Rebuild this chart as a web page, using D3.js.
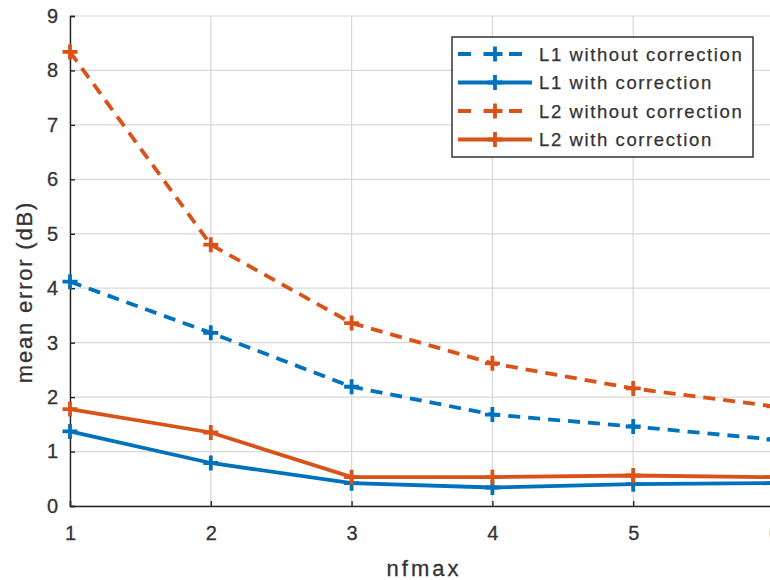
<!DOCTYPE html>
<html>
<head>
<meta charset="utf-8">
<script src="https://cdn.jsdelivr.net/npm/d3@7"></script>
<style>
  html, body { margin: 0; padding: 0; background: #fff; overflow: hidden; }
  svg { display: block; font-family: "Liberation Sans", Arial, Helvetica, sans-serif; }
</style>
</head>
<body>
<svg id="chart" width="770" height="580"></svg>
<script>
const nfmax = [1, 2, 3, 4, 5, 6];
const xTicks = [1, 2, 3, 4, 5, 6];
const yTicks = [0, 1, 2, 3, 4, 5, 6, 7, 8, 9];
const L1_without = [4.12, 3.18, 2.19, 1.68, 1.46, 1.22];
const L1_with    = [1.37, 0.79, 0.42, 0.34, 0.40, 0.42];
const L2_without = [8.34, 4.80, 3.36, 2.62, 2.16, 1.83];
const L2_with    = [1.78, 1.35, 0.53, 0.53, 0.56, 0.53];
const seriesNames = ["L1 without correction", "L1 with correction", "L2 without correction", "L2 with correction"];
const xLabel = "nfmax";
const yLabel = "mean error (dB)";

const blue = "#0072BD", orange = "#D95319", axisCol = "#262626", textCol = "#333", gridCol = "#d8d8d8";
const series = [
  { name: seriesNames[0], values: L1_without, color: blue, dash: "12,8" },
  { name: seriesNames[1], values: L1_with, color: blue, dash: null },
  { name: seriesNames[2], values: L2_without, color: orange, dash: "12,8" },
  { name: seriesNames[3], values: L2_with, color: orange, dash: null }
];
const LW = 3.8;

const svg = d3.select("#chart");
const x = d3.scaleLinear().domain([1, 6]).range([70, 774]);
const y = d3.scaleLinear().domain([0, 9]).range([506, 16]);

// grid
const grid = svg.append("g");
grid.selectAll("line.gx").data(xTicks).join("line")
  .attr("x1", d => x(d)).attr("x2", d => x(d)).attr("y1", y(0)).attr("y2", y(9))
  .attr("stroke", gridCol).attr("stroke-width", 1.2);
grid.selectAll("line.gy").data(yTicks).join("line")
  .attr("x1", x(1)).attr("x2", x(6)).attr("y1", d => y(d)).attr("y2", d => y(d))
  .attr("stroke", gridCol).attr("stroke-width", 1.2);

// axes
const xAxis = d3.axisBottom(x).tickValues(xTicks).tickSize(-5).tickPadding(20).tickFormat(d3.format("d"));
const yAxis = d3.axisLeft(y).tickValues(yTicks).tickSize(-5).tickPadding(12).tickFormat(d3.format("d"));
const gx = svg.append("g").attr("transform", `translate(0,${y(0)})`).call(xAxis);
const gy = svg.append("g").attr("transform", `translate(${x(1)},0)`).call(yAxis);
[gx, gy].forEach(g => {
  g.select(".domain").attr("stroke", axisCol).attr("stroke-width", 1.4);
  g.selectAll(".tick line").attr("stroke", axisCol).attr("stroke-width", 1.4);
  g.selectAll(".tick text").attr("fill", textCol).style("font-size", "20px")
    .attr("stroke", textCol).attr("stroke-width", 0.3)
    .style("font-family", '"Liberation Sans", Arial, sans-serif');
});
gx.selectAll(".tick text").attr("dy", "0.71em");

// lines
const line = d3.line().x((d, i) => x(nfmax[i])).y(d => y(d));
const plot = svg.append("g");
series.forEach(s => {
  plot.append("path").datum(s.values)
    .attr("d", line).attr("fill", "none")
    .attr("stroke", s.color).attr("stroke-width", LW)
    .attr("stroke-dasharray", s.dash);
  plot.append("g").selectAll("path").data(s.values).join("path")
    .attr("d", (d, i) => {
      const cx = x(nfmax[i]), cy = y(d), r = 7.5;
      return `M${cx - r},${cy}H${cx + r}M${cx},${cy - r}V${cy + r}`;
    })
    .attr("stroke", s.color).attr("stroke-width", LW).attr("fill", "none");
});

// labels
svg.append("text").attr("x", 424).attr("y", 576).attr("text-anchor", "middle")
  .attr("fill", textCol).attr("stroke", textCol).attr("stroke-width", 0.3)
  .style("font-size", "22px").style("letter-spacing", "3px").text(xLabel);
svg.append("text").attr("transform", `translate(32,292) rotate(-90)`).attr("text-anchor", "middle")
  .attr("fill", textCol).attr("stroke", textCol).attr("stroke-width", 0.3)
  .style("font-size", "22px").style("letter-spacing", "1.8px").text(yLabel);

// legend
const lg = svg.append("g");
lg.append("rect").attr("x", 452).attr("y", 37).attr("width", 301).attr("height", 120)
  .attr("fill", "#fff").attr("stroke", axisCol).attr("stroke-width", 1.4);
const rowY = d3.scaleLinear().domain([0, 3]).range([54, 139.5]);
series.forEach((s, i) => {
  const ry = rowY(i);
  const row = lg.append("g");
  row.append("line").attr("x1", 458).attr("x2", 532).attr("y1", ry).attr("y2", ry)
    .attr("stroke", s.color).attr("stroke-width", LW)
    .attr("stroke-dasharray", s.dash ? "13,12.5" : null);
  row.append("path").attr("d", `M${495 - 7.5},${ry}H${495 + 7.5}M495,${ry - 7.5}V${ry + 7.5}`)
    .attr("stroke", s.color).attr("stroke-width", LW);
  row.append("text").attr("x", 539).attr("y", ry).attr("dy", "0.36em")
    .attr("fill", textCol).attr("stroke", textCol).attr("stroke-width", 0.25)
    .style("font-size", "18.5px").style("letter-spacing", "1.6px").text(s.name);
});
</script>
</body>
</html>
